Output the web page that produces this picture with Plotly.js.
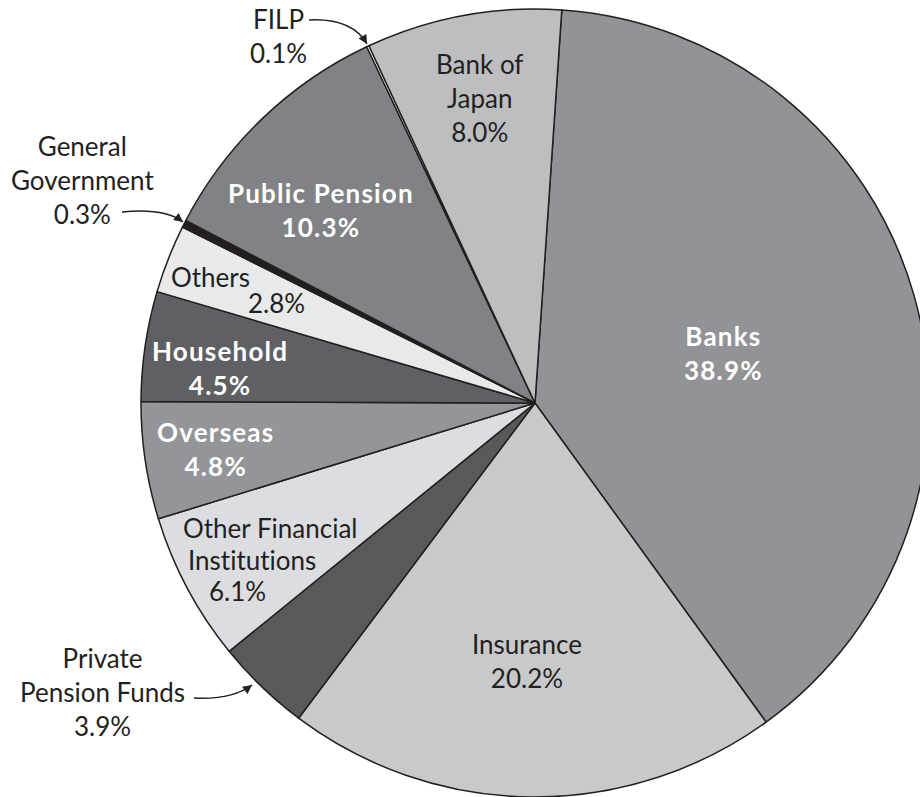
<!DOCTYPE html>
<html>
<head>
<meta charset="utf-8">
<script src="https://cdn.plot.ly/plotly-3.0.1.min.js"></script>
<style>
html, body { margin:0; padding:0; overflow:hidden; background:#fff; }
#chart { width:940px; height:797px; }
svg text { font-variant-ligatures: none; font-feature-settings: "liga" 0, "clig" 0; }
svg text tspan[style*="bold"] { letter-spacing: 1.2px; }
</style>
</head>
<body>
<div id="chart"></div>
<script>
// ---- data ----
const categories = ['Banks','Insurance','Private Pension Funds','Other Financial Institutions','Overseas','Household','Others','General Government','Public Pension','FILP','Bank of Japan'];
const shares = [38.9, 20.2, 3.9, 6.1, 4.8, 4.5, 2.8, 0.3, 10.3, 0.1, 8.0];
const labelLines = [
  ['Banks'],
  ['Insurance'],
  ['Private', 'Pension Funds'],
  ['Other Financial', 'Institutions'],
  ['Overseas'],
  ['Household'],
  ['Others'],
  ['General', 'Government'],
  ['Public Pension'],
  ['FILP'],
  ['Bank of', 'Japan']
];
const sliceColors = ['#929397','#c8c9cb','#58595b','#dcdde0','#939598','#5f6063','#e8e9ea','#231f20','#808285','#ffffff','#bcbec0'];

// ---- layout helpers (pixels -> paper) ----
const W = 940, H = 797;
const px = x => x / W;
const py = y => 1 - y / H;
const FONT = 'Lato, "Open Sans", sans-serif';
const FS = 26;
const dark = '#231f20';

// label placement (pixel centres) and style
const place = {
  'Banks': {x:723, y:353, bold:true, white:true},
  'Insurance': {x:527, y:661},
  'Private Pension Funds': {x:102, y:692},
  'Other Financial Institutions': {lines:[[270,528],[252,560],[238,591]]},
  'Overseas': {x:215, y:449, bold:true, white:true},
  'Household': {x:220, y:368, bold:true, white:true},
  'Others': {lines:[[210,277],[276,303]]},
  'General Government': {x:82, y:180},
  'Public Pension': {x:321, y:210, bold:true, white:true},
  'FILP': {x:278, y:36},
  'Bank of Japan': {x:480, y:98.5}
};

const annotations = [];
categories.forEach((c, i) => {
  const p = place[c];
  const lines = labelLines[i].concat([shares[i].toFixed(1) + '%']);
  const font = {family: FONT, size: FS, color: p.white ? '#ffffff' : dark};
  if (p.lines) {
    lines.forEach((t, k) => {
      annotations.push({xref:'paper', yref:'paper', x:px(p.lines[k][0]), y:py(p.lines[k][1]),
        xanchor:'center', yanchor:'middle', showarrow:false, font:font,
        text: p.bold ? '<b>' + t + '</b>' : t});
    });
  } else {
    const txt = lines.map(t => p.bold ? '<b>' + t + '</b>' : t).join('<br>');
    annotations.push({xref:'paper', yref:'paper', x:px(p.x), y:py(p.y),
      xanchor:'center', yanchor:'middle', align:'center', showarrow:false, font:font, text:txt});
  }
});

// leader arrows (curved line + arrow head)
const leaders = [
  {from:[309,20], ctrl:[352,18], to:[367,44]},
  {from:[122,212], ctrl:[165,208], to:[183,222]},
  {from:[194,698], ctrl:[232,700], to:[252,685]}
];
const shapes = [];
leaders.forEach(l => {
  shapes.push({type:'path', xref:'paper', yref:'paper',
    path:`M ${px(l.from[0])} ${py(l.from[1])} Q ${px(l.ctrl[0])} ${py(l.ctrl[1])} ${px(l.to[0])} ${py(l.to[1])}`,
    line:{color:dark, width:1.5}});
  const dx = l.to[0] - l.ctrl[0], dy = l.to[1] - l.ctrl[1];
  const len = Math.hypot(dx, dy);
  annotations.push({xref:'paper', yref:'paper', x:px(l.to[0]), y:py(l.to[1]),
    ax:-dx/len*6, ay:-dy/len*6, text:'', showarrow:true, arrowhead:2, arrowsize:1.2,
    arrowwidth:1.5, arrowcolor:dark, standoff:0});
});

const trace = {
  type:'pie',
  labels: categories,
  values: shares,
  sort:false,
  direction:'clockwise',
  rotation: 3.9,
  textinfo:'none',
  hoverinfo:'label+percent',
  marker:{colors:sliceColors, line:{color:dark, width:1.5}},
  domain:{x:[141/W, 929/W], y:[0, 1 - 9/H]},
  showlegend:false
};

Plotly.newPlot('chart', [trace], {
  width:W, height:H,
  margin:{l:0, r:0, t:0, b:0},
  paper_bgcolor:'#ffffff',
  showlegend:false,
  annotations: annotations,
  shapes: shapes,
  font:{family:FONT, color:dark}
}, {displayModeBar:false, staticPlot:true});
</script>
</body>
</html>
